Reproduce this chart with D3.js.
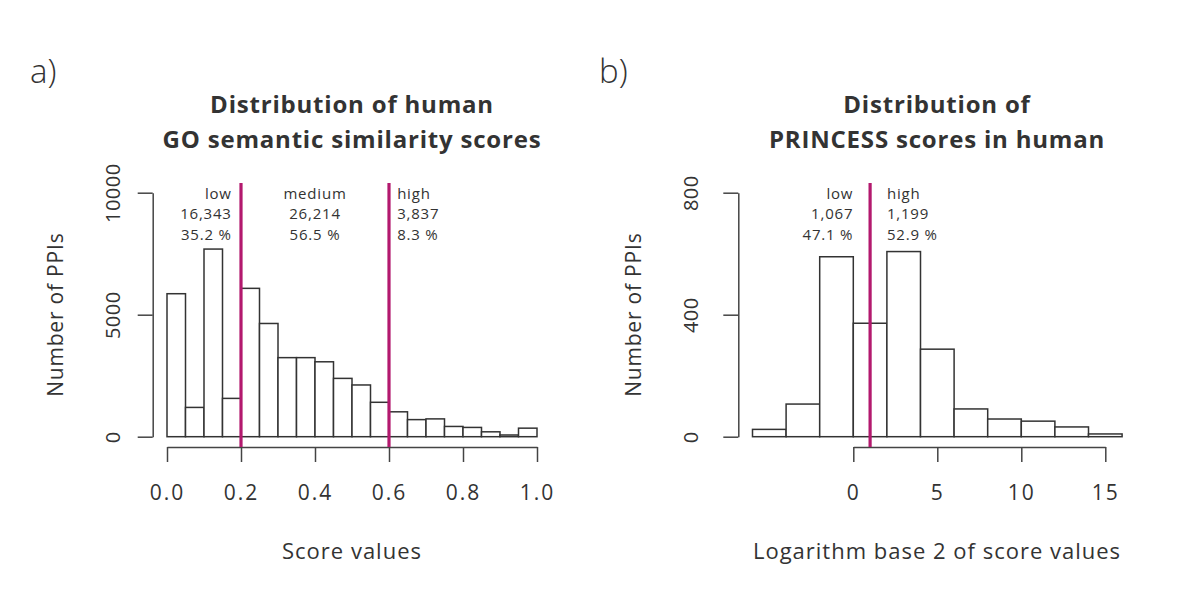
<!DOCTYPE html>
<html>
<head>
<meta charset="utf-8">
<script src="https://cdn.jsdelivr.net/npm/d3@7"></script>
<style>
  body { margin: 0; background: #fff; }
  text { font-family: "Open Sans", Lato, sans-serif; fill: #333; }
</style>
</head>
<body>
<div id="chart"></div>
<script>
// panel a: GO semantic similarity, 20 bins of width 0.05
const goBinStart = [0.00,0.05,0.10,0.15,0.20,0.25,0.30,0.35,0.40,0.45,0.50,0.55,0.60,0.65,0.70,0.75,0.80,0.85,0.90,0.95];
const goCounts = [5860,1200,7690,1570,6080,4640,3240,3240,3070,2390,2120,1410,1020,700,730,420,380,200,70,350];
const goCuts = [0.2, 0.6];
const goGroups = ["low", "medium", "high"];
const goGroupN = ["16,343", "26,214", "3,837"];
const goGroupPct = ["35.2 %", "56.5 %", "8.3 %"];
const goLabelX = [0.175, 0.4, 0.622];
const goLabelAnchor = ["end", "middle", "start"];
const goXTicks = [0, 0.2, 0.4, 0.6, 0.8, 1.0];
const goYTicks = [0, 5000, 10000];

// panel b: PRINCESS scores (log2), 11 bins of width 2
const prBinStart = [-6,-4,-2,0,2,4,6,8,10,12,14];
const prCounts = [24,107,590,372,607,287,91,58,51,32,9];
const prCuts = [1];
const prGroups = ["low", "high"];
const prGroupN = ["1,067", "1,199"];
const prGroupPct = ["47.1 %", "52.9 %"];
const prLabelX = [0, 2];
const prLabelAnchor = ["end", "start"];
const prXTicks = [0, 5, 10, 15];
const prYTicks = [0, 400, 800];

const width = 1200, height = 600;
const svg = d3.select("#chart").append("svg")
  .attr("width", width)
  .attr("height", height);

function panel(opt) {
  const x = d3.scaleLinear().domain(opt.xDomain).range(opt.xRange);
  const y = d3.scaleLinear().domain(opt.yDomain).range([436.7, 192.7]);
  const g = svg.append("g");

  g.append("text")
    .attr("x", opt.letterX).attr("y", 83)
    .attr("font-size", 33).attr("font-weight", 300)
    .text(opt.letter);

  const cx = opt.center;
  g.selectAll(".title")
    .data(opt.title)
    .join("text")
    .attr("class", "title")
    .attr("x", cx)
    .attr("y", (d, i) => 113 + i * 35)
    .attr("text-anchor", "middle")
    .attr("font-size", 24)
    .attr("font-weight", "bold")
    .attr("letter-spacing", 0.8)
    .text(d => d);

  g.selectAll("rect")
    .data(opt.counts)
    .join("rect")
    .attr("x", (d, i) => x(opt.bins[i]))
    .attr("width", (d, i) => x(opt.bins[i] + opt.binW) - x(opt.bins[i]))
    .attr("y", d => y(d))
    .attr("height", d => y(0) - y(d))
    .attr("fill", "#fff")
    .attr("stroke", "#333")
    .attr("stroke-width", 1.5);

  const xAxis = g.append("g")
    .attr("transform", "translate(0,447)")
    .call(d3.axisBottom(x).tickValues(opt.xTicks).tickSizeInner(15).tickSizeOuter(0).tickFormat(opt.xFmt));
  xAxis.selectAll("path,line").attr("stroke", "#444").attr("stroke-width", 1.5);
  xAxis.selectAll("text")
    .attr("y", 53).attr("dy", 0)
    .attr("font-size", 21)
    .attr("letter-spacing", 2)
    .attr("font-family", "'Open Sans', sans-serif")
    .attr("fill", "#333");

  const yAxis = g.append("g")
    .attr("transform", `translate(${opt.yAxisX},0)`)
    .call(d3.axisLeft(y).tickValues(opt.yTicks).tickSizeInner(15).tickSizeOuter(0).tickFormat(d3.format("d")));
  yAxis.selectAll("path,line").attr("stroke", "#444").attr("stroke-width", 1.5);
  yAxis.selectAll("text")
    .attr("x", null).attr("dy", null)
    .attr("transform", `translate(${opt.yLabelX - opt.yAxisX},0) rotate(-90)`)
    .attr("text-anchor", "middle")
    .attr("font-size", 20)
    .attr("letter-spacing", 0.5)
    .attr("font-family", "'Open Sans', sans-serif")
    .attr("fill", "#333");

  g.append("text")
    .attr("transform", `translate(${opt.yTitleX},${(y(0) + y(opt.yDomain[1])) / 2}) rotate(-90)`)
    .attr("text-anchor", "middle")
    .attr("font-size", 21)
    .attr("letter-spacing", 0.8)
    .text("Number of PPIs");

  g.append("text")
    .attr("x", cx).attr("y", 559)
    .attr("text-anchor", "middle")
    .attr("font-size", 22)
    .attr("letter-spacing", 1)
    .text(opt.xTitle);

  g.selectAll(".cut")
    .data(opt.cuts)
    .join("line")
    .attr("class", "cut")
    .attr("x1", d => x(d)).attr("x2", d => x(d))
    .attr("y1", 183).attr("y2", 447)
    .attr("stroke", "#b3196e")
    .attr("stroke-width", 3.2);

  const rows = [opt.groups, opt.groupN, opt.groupPct];
  rows.forEach((row, r) => {
    g.selectAll(".ann" + r)
      .data(row)
      .join("text")
      .attr("class", "ann" + r)
      .attr("x", (d, i) => x(opt.labelX[i]))
      .attr("y", 198.5 + r * 20.8)
      .attr("text-anchor", (d, i) => opt.labelAnchor[i])
      .attr("font-size", 15)
      .attr("letter-spacing", 0.8)
      .text(d => d);
  });
}

panel({
  letter: "a)", letterX: 30, center: 352,
  title: ["Distribution of human", "GO semantic similarity scores"],
  xDomain: [0, 1], xRange: [167, 537],
  yDomain: [0, 10000],
  bins: goBinStart, binW: 0.05, counts: goCounts,
  xTicks: goXTicks, xFmt: d3.format(".1f"),
  yTicks: goYTicks, yAxisX: 152.7, yLabelX: 120, yTitleX: 63,
  xTitle: "Score values",
  cuts: goCuts, groups: goGroups, groupN: goGroupN, groupPct: goGroupPct,
  labelX: goLabelX, labelAnchor: goLabelAnchor
});

panel({
  letter: "b)", letterX: 599, center: 937,
  title: ["Distribution of", "PRINCESS scores in human"],
  xDomain: [0, 15], xRange: [853.3, 1105.3],
  yDomain: [0, 800],
  bins: prBinStart, binW: 2, counts: prCounts,
  xTicks: prXTicks, xFmt: d3.format("d"),
  yTicks: prYTicks, yAxisX: 738.3, yLabelX: 698, yTitleX: 641,
  xTitle: "Logarithm base 2 of score values",
  cuts: prCuts, groups: prGroups, groupN: prGroupN, groupPct: prGroupPct,
  labelX: prLabelX, labelAnchor: prLabelAnchor
});
</script>
</body>
</html>
